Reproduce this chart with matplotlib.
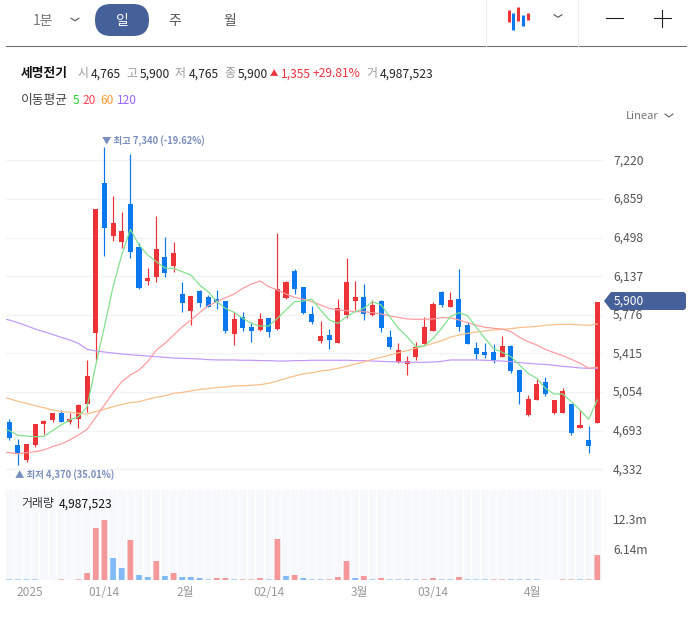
import matplotlib
matplotlib.use("Agg")
import matplotlib.pyplot as plt
import numpy as np
from matplotlib.patches import FancyBboxPatch, Polygon
from matplotlib.transforms import ScaledTranslation

plt.rcParams['font.family'] = ['Noto Sans CJK KR', 'DejaVu Sans']

opens = [4774,4559,4419,4559,4755,4793,4858,4774,4802,4942,5609,7008,6512,6456,6811,6410,6092,6129,6316,6232,5970,5812,6000,5942,5924,5905,5597,5755,5662,5634,5746,5643,5933,6185,6036,5784,5531,5587,5513,5774,5905,5942,5774,5905,5569,5335,5316,5382,5503,5625,5989,5849,5924,5681,5466,5428,5428,5382,5485,5260,4840,4980,5148,4858,4858,4943,4718,4606,4765]
closes = [4625,4478,4569,4755,4784,4855,4774,4802,4933,5204,6765,6587,6634,6559,6363,6026,6120,6391,6167,6354,5886,5952,5886,5849,5896,5625,5737,5653,5625,5737,5615,6017,6083,6017,5793,5709,5578,5541,5840,6083,5942,5784,5868,5653,5475,5447,5344,5475,5662,5877,5868,5914,5662,5503,5410,5400,5354,5485,5251,5055,4989,5129,5036,4980,5064,4671,4746,4550,5900]
highs = [4802,4615,4569,4755,4793,4855,4886,4855,4942,5354,6765,7340,6886,6737,7279,6444,6213,6699,6503,6456,6083,5952,6008,5961,6008,5905,5802,5802,5709,5793,5746,6544,6092,6204,6036,5858,5715,5643,5924,6307,6092,6064,5914,5914,5634,5513,5391,5522,5755,5896,5998,5986,6204,5709,5522,5513,5503,5575,5494,5260,5023,5176,5195,4980,5092,4943,4886,4737,5900]
lows = [4609,4370,4397,4537,4662,4774,4774,4752,4721,4871,5354,6325,6466,6400,6307,6014,6055,6083,6129,6176,5802,5681,5852,5849,5830,5603,5494,5625,5522,5625,5572,5634,5924,5970,5784,5690,5513,5453,5513,5746,5821,5727,5765,5615,5453,5326,5213,5354,5503,5625,5849,5849,5625,5503,5363,5372,5323,5382,5235,4943,4830,4980,5020,4849,4858,4653,4718,4488,4765]

ma5 = [4720,4693,4650,4643,4637,4640,4693,4746,4793,4824,4917,5307,5665,6039,6335,6575,6428,6335,6273,6213,6210,6179,6148,6055,5992,5899,5836,5799,5743,5696,5671,5671,5743,5821,5899,5905,5921,5821,5728,5696,5759,5805,5837,5899,5868,5759,5650,5572,5478,5485,5556,5650,5759,5796,5768,5659,5556,5463,5425,5385,5307,5229,5182,5089,5036,5036,4964,4886,4799,4980]
ma20 = [4490,4488,4478,4488,4497,4513,4544,4569,4606,4653,4706,4818,4933,5048,5151,5213,5260,5338,5447,5509,5587,5665,5727,5796,5861,5899,5936,5970,6023,6064,6092,6039,6008,5970,5939,5921,5899,5868,5837,5821,5815,5805,5805,5796,5784,5765,5752,5737,5734,5734,5737,5749,5749,5728,5703,5678,5659,5650,5643,5619,5566,5525,5494,5453,5422,5394,5360,5323,5276,5285]
ma60 = [5010,4992,4967,4949,4927,4908,4886,4871,4865,4855,4849,4871,4893,4917,4939,4955,4964,4986,5005,5020,5042,5051,5064,5079,5086,5095,5101,5111,5114,5117,5123,5136,5157,5182,5204,5223,5235,5251,5260,5276,5294,5316,5335,5360,5379,5400,5422,5441,5463,5485,5509,5534,5566,5587,5603,5615,5625,5634,5640,5647,5656,5662,5668,5678,5684,5687,5687,5681,5678,5690]
ma120 = [5745,5727,5702,5674,5643,5618,5593,5565,5541,5509,5453,5438,5428,5419,5410,5403,5397,5391,5385,5379,5372,5369,5366,5363,5357,5354,5354,5354,5351,5351,5348,5348,5344,5344,5348,5348,5351,5351,5351,5351,5351,5348,5348,5344,5341,5338,5335,5332,5332,5332,5335,5341,5354,5354,5354,5354,5351,5348,5344,5338,5329,5323,5316,5313,5304,5294,5288,5279,5276,5276]

volumes_m = [.12,.12,.12,.12,0,0,.12,0,.12,1.4,10.4,12.0,4.4,2.4,8.0,1.0,.6,3.8,.8,1.4,.6,.6,.4,.12,.4,.4,.12,.12,.12,.4,.12,8.2,.8,1.0,.4,.12,.12,.12,.6,3.8,.4,.8,.12,.4,.12,.12,.12,.12,.12,.4,.12,.12,.6,.12,.12,.12,.12,.12,.12,.12,.12,.12,0,0,.12,.12,.12,.12,4.99]
volume_up = [0,0,0,0,0,0,1,0,1,1,1,1,0,0,1,0,0,1,0,1,0,0,0,0,1,1,0,1,1,1,0,1,0,1,0,0,0,1,1,1,0,1,0,1,0,0,0,0,1,1,0,0,1,0,0,0,1,1,0,0,0,0,0,0,1,1,0,1,1]

price_ticks = [7220,6859,6498,6137,5776,5415,5054,4693,4332]
volume_ticks = [6.14,12.3]
volume_tick_labels = ['6.14m','12.3m']
date_pos = [2.4,11,20.4,30,40.5,49,60.5]
date_labels = ['2025','01/14','2월','02/14','3월','03/14','4월']

W, H = 691, 621
RED, BLUE = '#ee3338', '#0b78ee'
NAVY = '#466099'
PX = 0.72
fig = plt.figure(figsize=(W/100, H/100), dpi=100, facecolor='white')

def axpx(l, t, r, b, **kw):
    return fig.add_axes([l/W, 1-b/H, (r-l)/W, (b-t)/H], **kw)

xlim = ((6-9.3)/8.647, (603-9.3)/8.647)
x = np.arange(len(opens))
ma_x = np.arange(-1, len(opens))

def p_at(y):
    return 7220 - 9.346*(y-160.3)
ax = axpx(6, 130, 603, 482)
ax.set_xlim(*xlim)
ax.set_ylim(p_at(482), p_at(130))
ax.set_facecolor('none')
for s in ax.spines.values():
    s.set_visible(False)
ax.yaxis.tick_right()
ax.set_yticks(price_ticks)
ax.set_yticklabels([f'{v:,}' for v in price_ticks])
ax.tick_params(axis='y', length=0, pad=7.3, labelsize=8.7, labelcolor='#555555')
ax.set_xticks([])
ax.grid(axis='y', color='#f1f3f6', lw=1.0, zorder=0)
ax.set_axisbelow(True)
up1 = ScaledTranslation(0, 1/100, fig.dpi_scale_trans)
for lab in ax.get_yticklabels():
    lab.set_transform(lab.get_transform() + up1)

o, c = np.array(opens), np.array(closes)
cols = [RED if b >= a else BLUE for a, b in zip(opens, closes)]
ax.vlines(x, lows, highs, colors=cols, lw=1.2*PX, zorder=2)
ax.bar(x, np.maximum(np.abs(c-o), 1), bottom=np.minimum(o, c), width=0.58, color=cols, zorder=3)

for vals, col in [(ma120, '#c197f9'), (ma60, '#fbbd86'), (ma20, '#ff9a9e'), (ma5, '#7fe08a')]:
    ax.plot(ma_x, vals, color=col, lw=1.2*PX, zorder=4)

label_col = '#7a8dbf'
ax.annotate('▼ 최고 7,340 (-19.62%)', xy=(11, 7340), xytext=(-2, 0.6), textcoords='offset points',
            fontsize=6.75, color=label_col, weight='bold', ha='left', va='bottom')
ax.annotate('▲ 최저 4,370 (35.01%)', xy=(1, 4370), xytext=(-2, -3.2), textcoords='offset points',
            fontsize=6.75, color=label_col, weight='bold', ha='left', va='top')

vax = axpx(6, 490, 603, 580)
vax.set_xlim(*xlim)
vax.set_ylim(0, 90*0.2)
for s in vax.spines.values():
    s.set_visible(False)
vax.bar(x, [18]*len(x), width=0.88, color='#f6f8fc', zorder=1)
vcols = ['#f4989a' if u else '#80baf7' for u in volume_up]
bars = vax.bar(x, volumes_m, width=0.66, color=vcols, zorder=2)
for b in bars:
    b.set_snap(False)
vax.yaxis.tick_right()
vax.set_yticks(volume_ticks)
vax.set_yticklabels(volume_tick_labels)
vax.tick_params(axis='y', length=0, pad=7.3, labelsize=8.7, labelcolor='#555555')
vax.set_xticks(date_pos)
vax.set_xticklabels(date_labels)
vax.tick_params(axis='x', length=0, pad=4.2, labelsize=8.6, labelcolor='#999999')

ov = fig.add_axes([0, 0, 1, 1], zorder=10)
ov.set_xlim(0, W); ov.set_ylim(H, 0); ov.axis('off'); ov.patch.set_alpha(0)

def T(xp, yp, s, size=8.7, color='#222222', weight='normal', ha='left'):
    ov.text(xp, yp+0.8, s, fontsize=size, color=color, weight=weight, ha=ha, va='center')

def chevron(cx, cy, w=4, h=2.5, col='#555555'):
    ov.plot([cx-w, cx, cx+w], [cy-h/2, cy+h/2, cy-h/2], color=col, lw=0.8)

T(33, 20, '1분', 10, '#777777')
chevron(75, 19.5)
ov.add_patch(FancyBboxPatch((95, 4), 54, 32, boxstyle='round,pad=0,rounding_size=15.9',
                            fc=NAVY, ec=NAVY, lw=0))
T(122, 20, '일', 10, 'white', ha='center')
T(175, 20, '주', 10, '#555555', ha='center')
T(230, 20, '월', 10, '#555555', ha='center')
ov.plot([6, 686], [46.4, 46.4], color='#6b6f78', lw=0.8)
ov.plot([486.5, 486.5], [0, 46], color='#eeeeee', lw=0.8)
ov.plot([578.5, 578.5], [0, 46], color='#eeeeee', lw=0.8)
for xc, y0, y1, col in [(509, 10, 22, RED), (513.5, 13, 30, BLUE), (518.5, 7, 21, RED), (523.5, 15, 26, BLUE), (528.5, 13, 20, RED)]:
    ov.plot([xc, xc], [y0, y1], color=col, lw=2.2, solid_capstyle='butt')
chevron(558, 16)
ov.plot([606, 623], [18, 18], color='#222222', lw=0.8)
ov.plot([654, 671], [18, 18], color='#222222', lw=0.8)
ov.plot([662.5, 662.5], [10, 27], color='#222222', lw=0.8)

T(21, 73, '세명전기', 9.2, '#111111', 'bold')
for xp, s in [(78, '시'), (126, '고'), (175, '저'), (224, '종'), (366, '거')]:
    T(xp, 73, s, 8.6, '#999999')
for xp, s in [(91, '4,765'), (140, '5,900'), (189, '4,765'), (238, '5,900'), (380, '4,987,523')]:
    T(xp, 73, s, 8.7, '#222222', 'medium')
T(270, 73, '▲', 6, '#f0333f')
T(281, 73, '1,355', 8.7, '#f0333f', 'medium')
T(313, 73, '+29.81%', 8.7, '#f0333f', 'medium')

T(21, 100, '이동평균', 9.2, '#444444')
T(73, 100, '5', 8.6, '#22cc33')
T(83, 100, '20', 8.6, '#ff4455')
T(100, 100, '60', 8.6, '#ff9933')
T(117, 100, '120', 8.6, '#9966ff')

T(626, 115, 'Linear', 8.0, '#777777')
chevron(669, 115.5, 4, 3, '#666666')

ov.add_patch(Polygon([(604, 301), (611, 292), (684, 292), (686, 294), (686, 308), (684, 310), (611, 310)],
                     closed=True, fc=NAVY, ec=NAVY, lw=0))
T(614, 300.5, '5,900', 8.7, 'white')

T(21, 503, '거래량', 8.6, '#333333')
T(59, 503, '4,987,523', 8.7, '#111111', 'medium')

fig.savefig('out.png', dpi=100, facecolor='white')
